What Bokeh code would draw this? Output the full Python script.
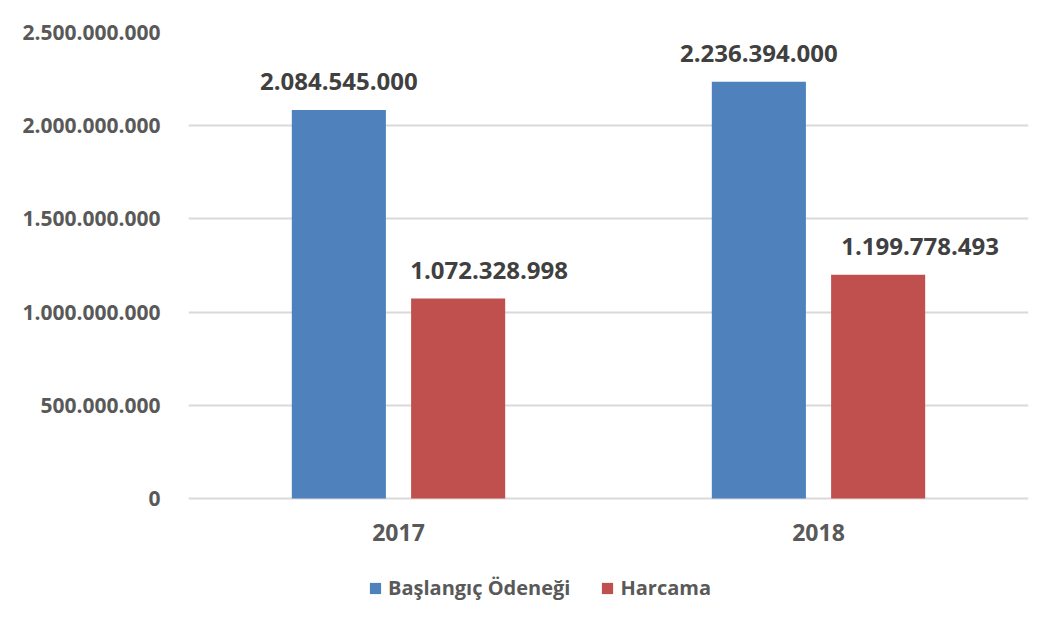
from bokeh.plotting import figure
from bokeh.models import (ColumnDataSource, FactorRange, Range1d, CustomJSTickFormatter,
                          FixedTicker, Legend, LegendItem)
from bokeh.transform import dodge
from bokeh.core.properties import value
from bokeh.embed import file_html
from bokeh.resources import INLINE

years = ["2017", "2018"]
baslangic = [2084545000, 2236394000]
harcama = [1072328998, 1199778493]
y_ticks = [0, 500000000, 1000000000, 1500000000, 2000000000, 2500000000]
series_names = ["Başlangıç Ödeneği", "Harcama"]


def fmt(v):
    return f"{v:,}".replace(",", ".")


# label shift (style) for the Harcama labels, as in the original
harcama_label_shift = [31, 42]

src = ColumnDataSource(dict(
    year=years,
    baslangic=baslangic,
    harcama=harcama,
    zero=[0, 0],
    b_label=[fmt(v) for v in baslangic],
    h_label=[fmt(v) for v in harcama],
    h_shift=harcama_label_shift,
))

FONT = "Open Sans"
BLUE = "#4F81BD"
RED = "#C0504D"

# geometry: value axis spans 466px; the frame extends below 0 to hold labels + legend
W, H = 1032, 610
TOP, BOTTOM = 32, 2
AXIS_PX = 466
frame_h = H - TOP - BOTTOM
y_max = y_ticks[-1]
y_min = -y_max * (frame_h - AXIS_PX) / AXIS_PX

p = figure(width=W, height=H, x_range=FactorRange(*years),
           y_range=Range1d(y_min, y_max),
           output_backend="svg", toolbar_location=None,
           min_border_left=188, min_border_right=4,
           min_border_top=TOP, min_border_bottom=BOTTOM)
p.outline_line_color = None
p.xgrid.grid_line_color = None
p.ygrid.grid_line_color = "#D9D9D9"
p.ygrid.grid_line_width = 2
p.xaxis.visible = False

p.yaxis.ticker = FixedTicker(ticks=y_ticks)
p.yaxis.formatter = CustomJSTickFormatter(
    code="return tick.toFixed(0).replace(/\\B(?=(\\d{3})+(?!\\d))/g, '.');")
ax = p.yaxis[0]
ax.axis_line_color = None
ax.major_tick_line_color = None
ax.minor_tick_line_color = None
ax.major_label_text_font = FONT
ax.major_label_text_font_style = "bold"
ax.major_label_text_color = "#595959"
ax.major_label_text_font_size = "21px"
ax.major_label_standoff = 22

b1 = p.vbar(x=dodge("year", -0.142, range=p.x_range), top="baslangic", width=0.224,
            source=src, fill_color=BLUE, line_color=None)
b2 = p.vbar(x=dodge("year", 0.142, range=p.x_range), top="harcama", width=0.224,
            source=src, fill_color=RED, line_color=None)

common = dict(text_align="center", text_baseline="middle", y_offset=-28,
              text_font=value(FONT), text_font_style="bold",
              text_font_size="24px", text_color="#404040", source=src)
p.text(x=dodge("year", -0.142, range=p.x_range), y="baslangic", text="b_label", **common)
p.text(x=dodge("year", 0.142, range=p.x_range), y="harcama", text="h_label",
       x_offset="h_shift", **common)

# category labels
p.text(x="year", y="zero", text="year", source=src, text_align="center",
       text_baseline="middle", y_offset=34, text_font=value(FONT),
       text_font_style="bold", text_font_size="23px", text_color="#595959")

legend = Legend(items=[LegendItem(label=series_names[0], renderers=[b1]),
                       LegendItem(label=series_names[1], renderers=[b2])],
                orientation="horizontal", location=(180, 7),
                glyph_width=14, glyph_height=14, label_standoff=6, spacing=30,
                padding=0, margin=0, border_line_color=None, background_fill_alpha=0,
                label_text_font=FONT, label_text_font_style="bold",
                label_text_font_size="20px", label_text_color="#595959")
p.add_layout(legend)

open("out.html", "w").write(file_html(p, INLINE))
